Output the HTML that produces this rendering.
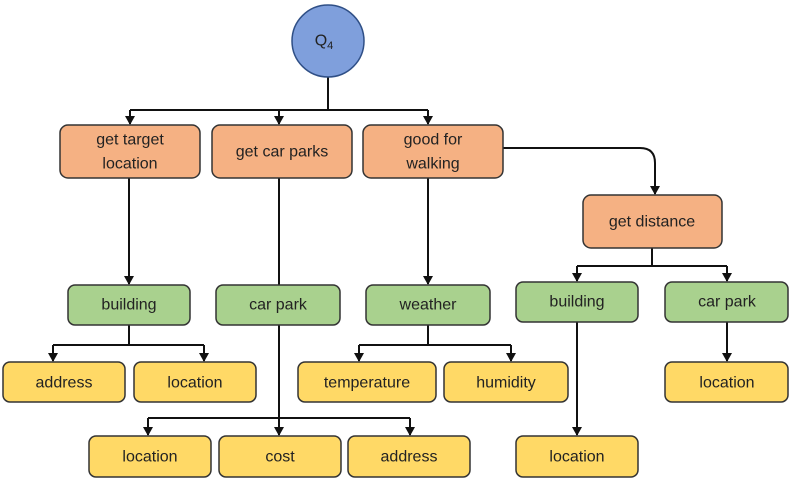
<!DOCTYPE html>
<html><head><meta charset="utf-8"><style>
body{margin:0;background:#fff}
svg text{font-family:"Liberation Sans",sans-serif;font-size:16px;fill:#222;text-anchor:middle;dominant-baseline:central}
</style></head><body>
<svg width="790" height="485" viewBox="0 0 790 485" xmlns="http://www.w3.org/2000/svg">
<defs><marker id="a" markerWidth="8" markerHeight="8" refX="4" refY="7" orient="auto" markerUnits="userSpaceOnUse"><path d="M0,0 L8,0 L4,8 z" fill="#111"/></marker>
<marker id="b" markerWidth="10" markerHeight="10" refX="5" refY="9" orient="0" markerUnits="userSpaceOnUse"><path d="M0,1 L10,1 L5,10 z" fill="#111"/></marker></defs>
<g stroke="#111" stroke-width="2" fill="none">
<path d="M328 77 V110 M130 110 H428"/>
<path d="M130 110 V124" marker-end="url(#b)"/><path d="M279 110 V124" marker-end="url(#b)"/><path d="M428 110 V124" marker-end="url(#b)"/>
<path d="M503 148 H640 Q655 148 655 163 V194" marker-end="url(#b)"/>
<path d="M129 178 V284" marker-end="url(#b)"/>
<path d="M279 178 V435" marker-end="url(#b)"/>
<path d="M428 178 V284" marker-end="url(#b)"/>
<path d="M129 325 V345 M53 345 H204"/><path d="M53 345 V361" marker-end="url(#b)"/><path d="M204 345 V361" marker-end="url(#b)"/>
<path d="M428 325 V345 M359 345 H511"/><path d="M359 345 V361" marker-end="url(#b)"/><path d="M511 345 V361" marker-end="url(#b)"/>
<path d="M148 418 H410"/><path d="M148 418 V435" marker-end="url(#b)"/><path d="M410 418 V435" marker-end="url(#b)"/>
<path d="M652 248 V266 M577 266 H727"/><path d="M577 266 V281" marker-end="url(#b)"/><path d="M727 266 V281" marker-end="url(#b)"/>
<path d="M577 322 V435" marker-end="url(#b)"/>
<path d="M727 322 V361" marker-end="url(#b)"/>
</g>
<circle cx="328" cy="41" r="36" fill="#7f9fdc" stroke="#2f4f86" stroke-width="1.5"/>
<text x="324" y="41" font-size="17">Q<tspan font-size="11" dy="5">4</tspan></text>
<g stroke="#333" stroke-width="1.5">
<g fill="#f5b183">
<rect x="60" y="125" width="140" height="53" rx="8"/><rect x="212" y="125" width="140" height="53" rx="8"/><rect x="363" y="125" width="140" height="53" rx="8"/><rect x="583" y="195" width="139" height="53" rx="8"/>
</g>
<g fill="#a9d18e">
<rect x="68" y="285" width="122" height="40" rx="7"/><rect x="216" y="285" width="124" height="40" rx="7"/><rect x="366" y="285" width="124" height="40" rx="7"/><rect x="516" y="282" width="122" height="40" rx="7"/><rect x="665" y="282" width="123" height="40" rx="7"/>
</g>
<g fill="#ffd966">
<rect x="3" y="362" width="122" height="40" rx="7"/><rect x="134" y="362" width="122" height="40" rx="7"/><rect x="298" y="362" width="138" height="40" rx="7"/><rect x="444" y="362" width="124" height="40" rx="7"/><rect x="665" y="362" width="123" height="40" rx="7"/>
<rect x="89" y="436" width="122" height="41" rx="7"/><rect x="219" y="436" width="122" height="41" rx="7"/><rect x="348" y="436" width="122" height="41" rx="7"/><rect x="516" y="436" width="122" height="41" rx="7"/>
</g></g>
<text x="130" y="140">get target</text><text x="130" y="164">location</text>
<text x="282" y="152">get car parks</text>
<text x="433" y="140">good for</text><text x="433" y="164">walking</text>
<text x="652" y="222">get distance</text>
<text x="129" y="305">building</text><text x="278" y="305">car park</text><text x="428" y="305">weather</text><text x="577" y="302">building</text><text x="727" y="302">car park</text>
<text x="64" y="383">address</text><text x="195" y="383">location</text><text x="367" y="383">temperature</text><text x="506" y="383">humidity</text><text x="727" y="383">location</text>
<text x="150" y="457">location</text><text x="280" y="457">cost</text><text x="409" y="457">address</text><text x="577" y="457">location</text>
</svg>
</body></html>
